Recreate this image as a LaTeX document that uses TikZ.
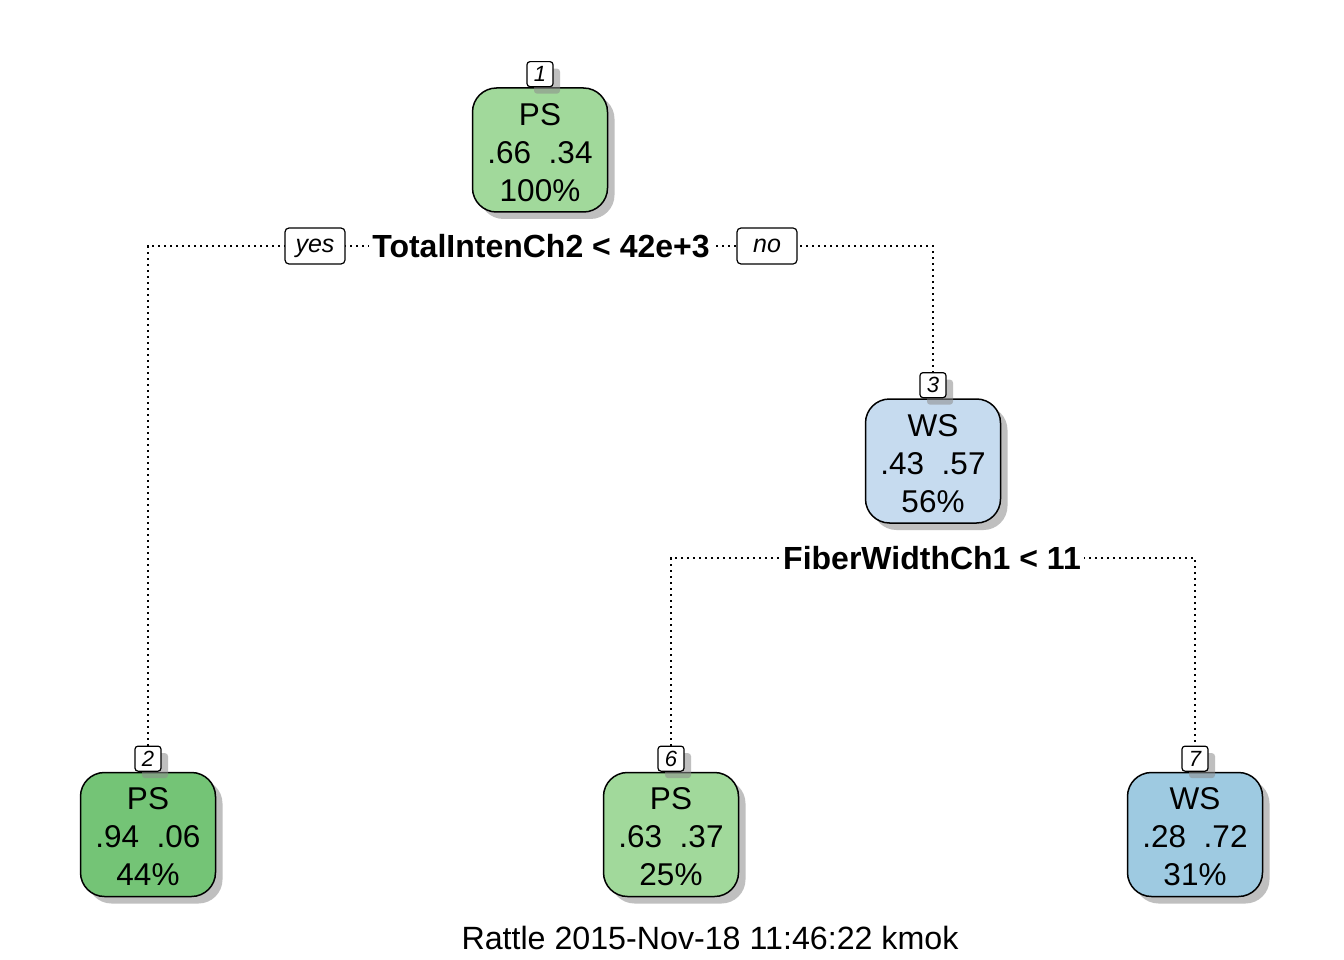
\documentclass[tikz,border=0pt]{standalone}
\usepackage{fontspec}
\setmainfont{Liberation Sans}
\usetikzlibrary{shadows}
\definecolor{gA}{HTML}{A1D99B}
\definecolor{gB}{HTML}{74C476}
\definecolor{bA}{HTML}{C6DBEF}
\definecolor{bB}{HTML}{9ECAE1}
\tikzset{
  shad/.style={drop shadow={shadow xshift=7pt, shadow yshift=-7pt, fill=black!45, opacity=0.55}},
  treebox/.style={draw=black, line width=1.5pt, rounded corners=24pt, minimum width=135pt, minimum height=124pt, inner sep=0pt, shad},
  numbox/.style={draw=black, line width=1.2pt, fill=white, rounded corners=3pt, minimum width=26pt, minimum height=25pt, inner sep=0pt, font=\fontsize{22}{22}\selectfont\itshape, shad},
  txt/.style={font=\fontsize{31.5}{38}\selectfont, anchor=base, inner sep=0pt},
  foottxt/.style={font=\fontsize{32.2}{38}\selectfont, anchor=base, inner sep=0pt},
  splitlab/.style={font=\fontsize{32}{38}\selectfont\bfseries, fill=white, inner xsep=3pt, inner ysep=3pt},
  yn/.style={draw=black, line width=1.2pt, fill=white, rounded corners=4pt, minimum width=60pt, minimum height=36pt, inner sep=0pt, text height=13pt, text depth=0pt, font=\fontsize{25}{25}\selectfont\itshape},
  conn/.style={line width=1.8pt, dash pattern=on 1.8pt off 4.2pt}
}
\newcommand\tnode[8]{%
  \node[treebox, fill=#4] (#1) at (#2,#3) {};
  \node[numbox, anchor=south] (#1num) at (#1.north) {#5};
  \node[txt] (#1cls) at (#2,{#3-24.7}) {#6};
  \node[txt] (#1prob) at (#2,{#3+13.3}) {#7};
  \node[txt] (#1pct) at (#2,{#3+51.3}) {#8};
}
\begin{document}
\begin{tikzpicture}[x=1pt,y=-1pt]
\fill[white] (0,0) rectangle (1344,960);
\useasboundingbox (0,0) rectangle (1344,960);
\tnode{n1}{540}{150}{gA}{1}{PS}{.66\ \ .34}{100\%}
\tnode{n3}{933}{461}{bA}{3}{WS}{.43\ \ .57}{56\%}
\tnode{n2}{148}{834.5}{gB}{2}{PS}{.94\ \ .06}{44\%}
\tnode{n6}{671}{834.5}{gA}{6}{PS}{.63\ \ .37}{25\%}
\tnode{n7}{1195}{834.5}{bB}{7}{WS}{.28\ \ .72}{31\%}
\coordinate (s1) at (541,246);
\coordinate (s2) at (932,558);
\draw[conn] (n2num.north) -- (n2num.north |- s1) -- (n3num.north |- s1) -- (n3num.north);
\draw[conn] (n6num.north) -- (n6num.north |- s2) -- (n7num.north |- s2) -- (n7num.north);
\node[splitlab] (lab1) at (s1) {TotalIntenCh2 < 42e+3};
\node[splitlab] (lab2) at (s2) {FiberWidthCh1 < 11};
\node[yn] (yes) at (315,246) {yes};
\node[yn] (no) at (767,246) {no};
\node[foottxt] (foot) at (710,949) {Rattle 2015-Nov-18 11:46:22 kmok};
\end{tikzpicture}
\end{document}
